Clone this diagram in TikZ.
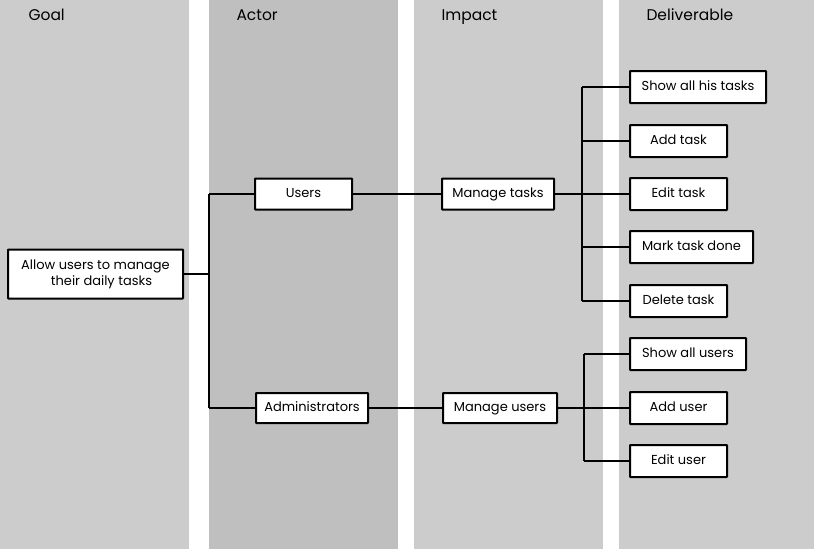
\documentclass[tikz,border=0pt]{standalone}
\usepackage{fontspec}
\setmainfont{Poppins}
\definecolor{laneA}{HTML}{CCCCCC}
\definecolor{laneB}{HTML}{BFBFBF}
\begin{document}
\begin{tikzpicture}[x=1pt,y=-1pt,
  lane/.style={fill=#1,draw=none},
  head/.style={anchor=base west,font=\fontsize{15.5}{18}\selectfont},
  box/.style={draw=black,fill=white,line width=2pt,rounded corners=0.5pt,
    font=\fontsize{13}{16}\selectfont,inner sep=0pt,align=center},
  one/.style={box,text height=9.5pt,text depth=3pt},
  link/.style={draw=black,line width=2pt},
  thin link/.style={draw=black,line width=1.5pt}]
\useasboundingbox (0,0) rectangle (814,549);
\fill[lane=laneA] (0,0) rectangle (189,549);
\fill[lane=laneB] (209,0) rectangle (398,549);
\fill[lane=laneA] (414,0) rectangle (603,549);
\fill[lane=laneA] (619,0) rectangle (814,549);
\node[head] (hg) at (25,20) {Goal};
\node[head] (ha) at (233,20) {Actor};
\node[head] (hi) at (438,20) {Impact};
\node[head] (hd) at (643,20) {Deliverable};
% nodes
\node[box,minimum width=175pt,minimum height=49pt] (goal) at (95.5,274) {Allow users to manage\\\hspace*{12pt}their daily tasks};
\node[one,minimum width=97pt,minimum height=31pt] (users) at (303.5,194) {Users};
\node[one,minimum width=112pt,minimum height=30pt] (admins) at (312,408) {Administrators};
\node[one,minimum width=112pt,minimum height=31pt] (mtasks) at (498,194) {Manage tasks};
\node[one,minimum width=114pt,minimum height=30pt] (musers) at (500,408) {Manage users};
\node[one,minimum width=136pt,minimum height=32pt] (d1) at (698,87) {Show all his tasks};
\node[one,minimum width=97pt,minimum height=32pt] (d2) at (678.5,141) {Add task};
\node[one,minimum width=97pt,minimum height=32pt] (d3) at (678.5,194) {Edit task};
\node[one,minimum width=123pt,minimum height=32pt] (d4) at (691.5,247) {Mark task done};
\node[one,minimum width=97pt,minimum height=32pt] (d5) at (678.5,301) {Delete task};
\node[one,minimum width=116pt,minimum height=32pt] (u1) at (688,354) {Show all users};
\node[one,minimum width=97pt,minimum height=32pt] (u2) at (678.5,408) {Add user};
\node[one,minimum width=97pt,minimum height=32pt] (u3) at (678.5,461) {Edit user};
% connectors
\coordinate (ga) at (209,274);
\coordinate (ta) at (582,194);
\coordinate (tb) at (584,408);
\draw[link] (goal.east) -- (ga);
\draw[link] (ga |- users.west) -- (ga |- admins.west);
\draw[link] (ga |- users.west) -- (users.west);
\draw[link] (ga |- admins.west) -- (admins.west);
\draw[thin link] (users.east) -- (mtasks.west);
\draw[thin link] (admins.east) -- (musers.west);
\draw[link] (mtasks.east) -- (ta);
\draw[link] (ta |- d1.west) -- (ta |- d5.west);
\foreach \n in {d1,d2,d3,d4,d5} \draw[link] (ta |- \n.west) -- (\n.west);
\draw[link] (musers.east) -- (tb);
\draw[link] (tb |- u1.west) -- (tb |- u3.west);
\foreach \n in {u1,u2,u3} \draw[link] (tb |- \n.west) -- (\n.west);
\end{tikzpicture}
\end{document}
